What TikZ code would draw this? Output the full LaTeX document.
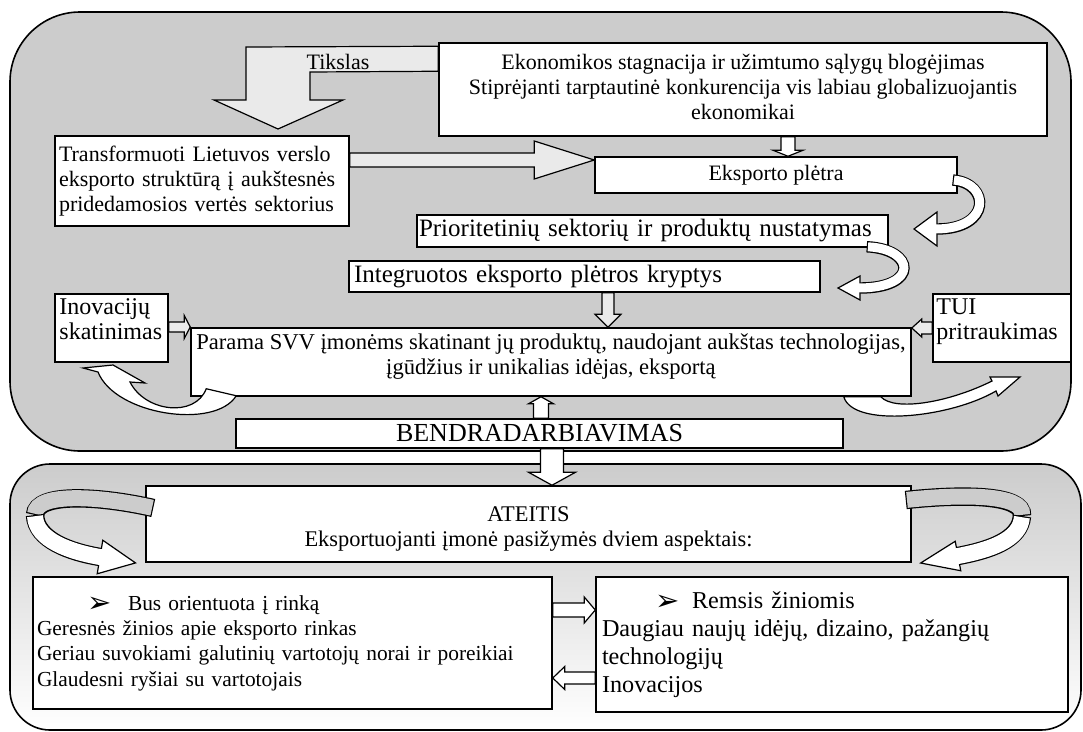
\documentclass[tikz,border=0pt]{standalone}
\usepackage{fontspec}
\setmainfont{Liberation Serif}
\newfontfamily\symfont{DejaVu Sans}
\usetikzlibrary{calc}

\definecolor{panelgray}{RGB}{204,204,204}
\definecolor{arrowgray}{RGB}{234,234,234}

\newcommand\txt{\fontsize{22}{25}\selectfont}
\newcommand\txtbig{\fontsize{25}{28}\selectfont}
\newcommand\txtcaps{\fontsize{26}{29}\selectfont}
\newcommand\bul{\raisebox{-2.5pt}[0pt][0pt]{\symfont\fontsize{29}{25}\selectfont ➢}}

% straight block arrow, horizontal: tail point, tip point, shaft half, head half, head length, style
\newcommand\harrow[6]{%
  \path[#6] let \p1=(#1), \p2=(#2), \n1={\x2-sign(\x2-\x1)*#5} in
    (\x1,\y1+#3pt) -- (\n1,\y1+#3pt) -- (\n1,\y1+#4pt) -- (\x2,\y1)
    -- (\n1,\y1-#4pt) -- (\n1,\y1-#3pt) -- (\x1,\y1-#3pt) -- cycle;}
% straight block arrow, vertical
\newcommand\varrow[6]{%
  \path[#6] let \p1=(#1), \p2=(#2), \n1={\y2-sign(\y2-\y1)*#5} in
    (\x1+#3pt,\y1) -- (\x1+#3pt,\n1) -- (\x1+#4pt,\n1) -- (\x1,\y2)
    -- (\x1-#4pt,\n1) -- (\x1-#3pt,\n1) -- (\x1-#3pt,\y1) -- cycle;}
% curved ribbon arrow: start, control, control, end, width, head half, head length, fill
\newcommand\ribbon[8]{%
  \draw[line width=#5pt+2.4pt] (#1) .. controls (#2) and (#3) .. (#4);
  \draw[line width=1.2pt, fill=#8, line join=miter]
    ($(#4)!#6pt!90:(#3)$) -- ($(#4)!-#7pt!(#3)$) -- ($(#4)!#6pt!-90:(#3)$) -- cycle;
  \draw[draw=#8, line width=#5pt, shorten <=1.2pt, shorten >=-1.5pt]
    (#1) .. controls (#2) and (#3) .. (#4);}
% curved band without head (back side of a twisted ribbon)
\newcommand\band[6]{%
  \draw[line width=#5pt+2.4pt] (#1) .. controls (#2) and (#3) .. (#4);
  \draw[draw=#6, line width=#5pt, shorten <=1.2pt, shorten >=1.2pt]
    (#1) .. controls (#2) and (#3) .. (#4);}

\begin{document}
\begin{tikzpicture}[x=1pt,y=-1pt,
  box/.style={draw, fill=white, line width=1.5pt, inner sep=0pt, font=\txt},
  words/.style={inner sep=0pt, font=\txt},
  lightarrow/.style={draw, fill=arrowgray, line width=1.2pt, line join=miter},
  whitearrow/.style={draw, fill=white, line width=1.2pt, line join=miter},
  curvearrow/.style={draw, fill=white, line width=1.2pt, line join=miter},
  panel/.style={draw, line width=1.6pt}]

\useasboundingbox (0,0) rectangle (1083,731);

% the two panels
\path[panel, fill=panelgray, rounded corners=70pt] (10,12) rectangle (1071,451);
\path[panel, top color=panelgray, bottom color=white, rounded corners=40pt] (10,464) rectangle (1081,730);

% upper panel boxes
\node[box, minimum width=608pt, minimum height=93pt] (ek) at (743,89.5) {};
\node[words, anchor=base, align=center] (ektext) at ($(ek.north)+(0,77)$)
  {Ekonomikos stagnacija ir užimtumo sąlygų blogėjimas\\Stiprėjanti tarptautinė konkurencija vis labiau globalizuojantis\\ekonomikai};
\node[box, minimum width=294pt, minimum height=90pt, text width=286pt, align=left] (tr) at (202,181)
  {Transformuoti Lietuvos verslo\\eksporto struktūrą į aukštesnės\\pridedamosios vertės sektorius};
\node[box, minimum width=362pt, minimum height=36pt] (ex) at (776,175) {Eksporto plėtra};
\node[box, minimum width=471pt, minimum height=32pt, text width=467pt, align=left, font=\txtbig] (pr) at (652.5,231)
  {Prioritetinių sektorių ir produktų nustatymas};
\node[box, minimum width=471pt, minimum height=31pt, text width=461pt, align=left, font=\txtbig] (ig) at (584.5,276.5)
  {Integruotos eksporto plėtros kryptys};
\node[box, minimum width=113pt, minimum height=68pt] (in) at (111.5,328) {};
\node[words, anchor=base west, align=left, font=\fontsize{24}{25}\selectfont] (intext) at ($(in.north west)+(5,46)$)
  {Inovacijų\\skatinimas};
\node[box, minimum width=138pt, minimum height=68pt] (tui) at (1002,328) {};
\node[words, anchor=base west, align=left, font=\fontsize{24}{25}\selectfont] (tuitext) at ($(tui.north west)+(4,46)$)
  {TUI\\pritraukimas};
\node[box, minimum width=720pt, minimum height=68pt] (pa) at (551,362) {};
\node[words, anchor=base, align=center, font=\fontsize{22.6}{25}\selectfont] (patext) at ($(pa.north)+(0,47)$)
  {Parama SVV įmonėms skatinant jų produktų, naudojant aukštas technologijas,\\įgūdžius ir unikalias idėjas, eksportą};
\node[box, minimum width=607pt, minimum height=29pt, font=\txtcaps] (be) at (539.5,433.5) {BENDRADARBIAVIMAS};

% lower panel boxes
\node[box, minimum width=765pt, minimum height=76pt] (at) at (528.5,524) {};
\node[words, anchor=base, align=center, font=\fontsize{22.4}{25}\selectfont] (attext) at ($(at.north)+(0,61)$)
  {ATEITIS\\Eksportuojanti įmonė pasižymės dviem aspektais:};
\node[box, minimum width=519pt, minimum height=132pt, text width=511pt, align=left, font=\fontsize{21.4}{25.3}\selectfont] (bus) at (292.5,643)
  {\hspace*{50pt}\makebox[41pt][l]{\bul}Bus orientuota į rinką\\Geresnės žinios apie eksporto rinkas\\Geriau suvokiami galutinių vartotojų norai ir poreikiai\\Glaudesni ryšiai su vartotojais};
\node[box, minimum width=472pt, minimum height=135pt, text width=460pt, align=left, font=\fontsize{24.2}{28}\selectfont] (rem) at (832,644.5)
  {\hspace*{53pt}\makebox[37pt][l]{\bul}Remsis žiniomis\\Daugiau naujų idėjų, dizaino, pažangių\\technologijų\\Inovacijos};

% bent arrow from the problem box to the goal
\path[lightarrow] ($(ek.north west)+(0,4)$) -- (246,47) -- (246,100) -- (214,100) -- (278,129)
  -- (343,100) -- (310,100) -- (310,72) -- ($(ek.north west)+(0,29)$) -- cycle;
\node[words] (tk) at (338,62) {Tikslas};

% straight block arrows
\harrow{$(tr.east)+(0,-21)$}{ex.west}{7}{19}{60}{lightarrow}
\varrow{$(ek.south)+(45,0)$}{ex.north}{7}{15}{6}{whitearrow}
\varrow{$(ig.south)+(23.5,0)$}{pa.north}{6}{13}{13}{lightarrow}
\harrow{$(in.east)+(0,-1)$}{pa.west}{5}{11.5}{6}{lightarrow}
\harrow{tui.west}{pa.east}{6}{9}{10}{lightarrow}
\varrow{$(be.north)+(1.5,0)$}{pa.south}{7.5}{12.5}{7}{whitearrow}
\varrow{$(be.south)+(12.5,0)$}{at.north}{11.5}{23.5}{13}{whitearrow}
\harrow{$(bus.east)+(0,-33)$}{rem.west}{7}{13}{11}{whitearrow}
\harrow{$(rem.west)+(0,33.5)$}{bus.east}{6}{11.5}{12}{whitearrow}

% curved arrows of the upper panel
\ribbon{$(ex.east)+(-5,5)$}{990,183}{992,229}{937,229}{9}{17}{23}{white}
\ribbon{$(pr.south east)+(-22,-1)$}{915,249}{920,288}{860,288}{9}{12}{22}{white}
% from the support box back to innovation
\path[curvearrow] ($(pa.south west)+(16,-8)$) -- ($(pa.south west)+(46,-1)$)
  .. controls (215,430) and (115,415) .. (98,372) -- (83,368) -- (113,365) -- (145,383) -- (130,382)
  .. controls (145,412) and (195,418) .. ($(pa.south west)+(16,-8)$) -- cycle;
% from the support box out to investment attraction
\path[curvearrow] ($(pa.south east)+(-68,0)$)
  .. controls (853,428) and (950,418) .. (996,391) -- (998,396) -- (1020,377) -- (990,377) -- (992,381)
  .. controls (950,402) and (895,412) .. ($(pa.south east)+(-31,0)$) -- cycle;

% twisted arrows of the lower panel
\band{$(at.west)+(8,-16)$}{100,496}{36,492}{35,515}{16}{panelgray}
\ribbon{35,515}{36,540}{70,552}{100,557}{16}{17}{36}{white}
\band{$(at.east)+(-6,-24)$}{962,494}{1024,494}{1022,516}{16}{panelgray}
\ribbon{1022,516}{1020,540}{990,550}{958,556}{16}{15}{38}{white}

\end{tikzpicture}
\end{document}
